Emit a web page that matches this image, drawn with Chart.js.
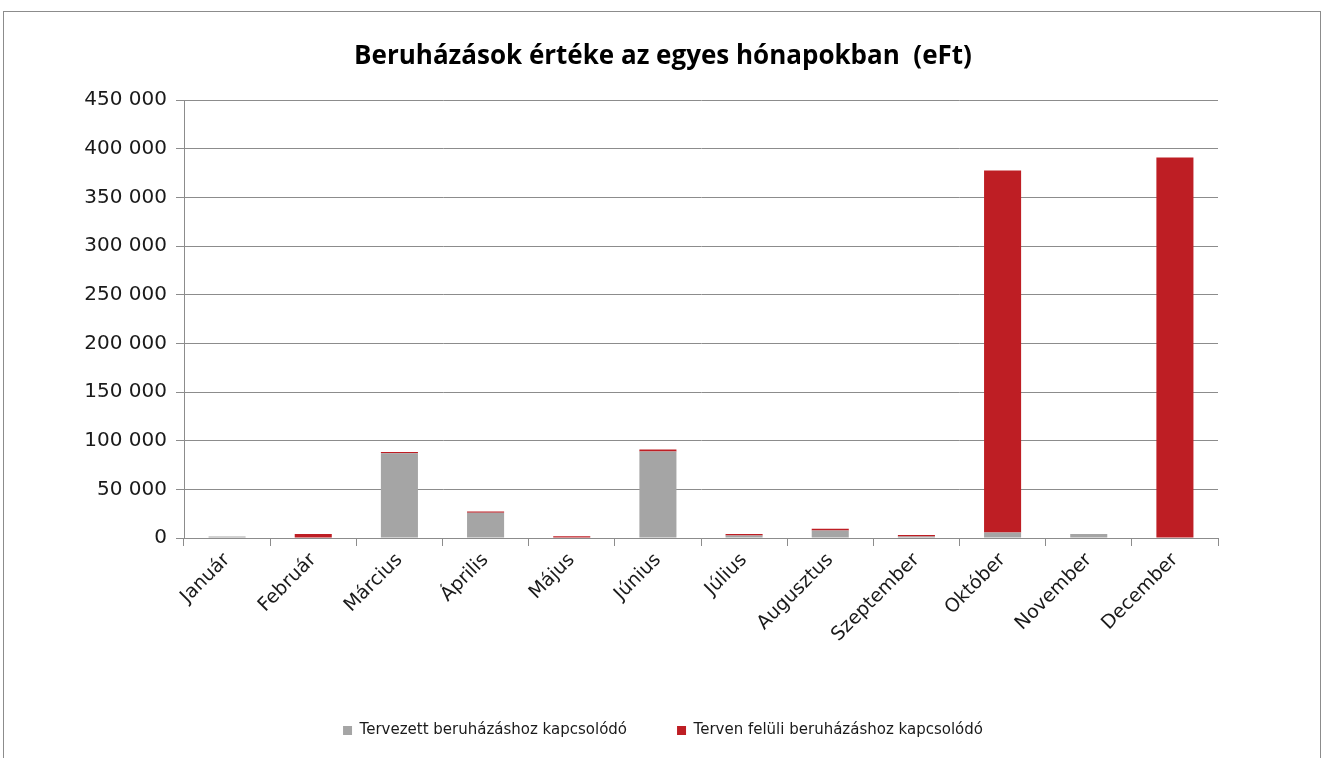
<!DOCTYPE html>
<html>
<head>
<meta charset="utf-8">
<script src="https://cdn.jsdelivr.net/npm/chart.js@4.4.0/dist/chart.umd.min.js"></script>
<style>
  html, body { margin: 0; padding: 0; background: #fff; }
  #frame {
    position: absolute; left: 3px; top: 11px;
    width: 1318px; height: 760px;
    border: 1px solid #8c8c8c; box-sizing: border-box;
  }
  #wrap { position: absolute; left: 1px; top: 1px; width: 1316px; height: 746px; }
</style>
</head>
<body>
<div id="frame"><div id="wrap"><canvas id="chart"></canvas></div></div>
<script>
// Hónapok
const months = ['Január', 'Február', 'Március', 'Április', 'Május', 'Június',
                'Július', 'Augusztus', 'Szeptember', 'Október', 'November', 'December'];

// Tervezett beruházáshoz kapcsolódó (eFt)
const planned = [1500, 0, 87000, 26000, 500, 89000, 2500, 7800, 1500, 5700, 4200, 0];

// Terven felüli beruházáshoz kapcsolódó (eFt)
const unplanned = [0, 4200, 1500, 1200, 1200, 2000, 1700, 1700, 1500, 372000, 0, 391000];

const yTicks = [0, 50000, 100000, 150000, 200000, 250000, 300000, 350000, 400000, 450000];

const font = "'DejaVu Sans', sans-serif";

function formatNum(v) {
    return String(v).replace(/\B(?=(\d{3})+(?!\d))/g, ' ');
}

document.addEventListener('DOMContentLoaded', function() {
    const ctx = document.getElementById('chart').getContext('2d');

    new Chart(ctx, {
        type: 'bar',
        data: {
            labels: months,
            datasets: [
                {
                    label: 'Tervezett beruházáshoz kapcsolódó',
                    data: planned,
                    backgroundColor: '#a5a5a5',
                    barPercentage: 0.86,
                    categoryPercentage: 0.5
                },
                {
                    label: 'Terven felüli beruházáshoz kapcsolódó',
                    data: unplanned,
                    backgroundColor: '#be1e24',
                    barPercentage: 0.86,
                    categoryPercentage: 0.5
                }
            ]
        },
        options: {
            responsive: true,
            maintainAspectRatio: false,
            animation: false,
            layout: {
                padding: { left: 0, right: 0, top: 0, bottom: 11 }
            },
            scales: {
                x: {
                    stacked: true,
                    afterFit: function(scale) { scale.height = 135; },
                    grid: {
                        offset: true,
                        drawOnChartArea: false,
                        drawTicks: true,
                        tickLength: 8,
                        color: '#8c8c8c'
                    },
                    border: { color: '#8c8c8c', width: 1 },
                    ticks: {
                        minRotation: 45,
                        maxRotation: 45,
                        color: '#1a1a1a',
                        font: { family: font, size: 19 },
                        padding: 3
                    }
                },
                y: {
                    stacked: true,
                    min: 0,
                    max: 450000,
                    afterFit: function(scale) { scale.width = 179; },
                    afterBuildTicks: function(scale) {
                        scale.ticks = yTicks.map(v => ({ value: v }));
                    },
                    grid: {
                        color: '#8c8c8c',
                        tickLength: 8
                    },
                    border: { color: '#8c8c8c', width: 1 },
                    ticks: {
                        color: '#1a1a1a',
                        font: { family: font, size: 20 },
                        padding: 9,
                        callback: function(v) { return formatNum(v); }
                    }
                },
                // üres jobb oldali sáv, hogy a cím középre kerüljön
                right: {
                    position: 'right',
                    display: true,
                    afterFit: function(scale) { scale.width = 103; },
                    grid: { display: false },
                    border: { display: false },
                    ticks: { display: false }
                }
            },
            plugins: {
                title: {
                    display: true,
                    text: 'Beruházások értéke az egyes hónapokban  (eFt)',
                    color: '#000',
                    font: { family: "'Open Sans', sans-serif", size: 26, weight: 'bold' },
                    padding: { top: 28, bottom: 28 }
                },
                legend: {
                    position: 'bottom',
                    labels: {
                        boxWidth: 9,
                        boxHeight: 9,
                        color: '#1a1a1a',
                        font: { family: font, size: 15 },
                        padding: 50
                    }
                },
                tooltip: { enabled: false }
            }
        }
    });
});
</script>
</body>
</html>
